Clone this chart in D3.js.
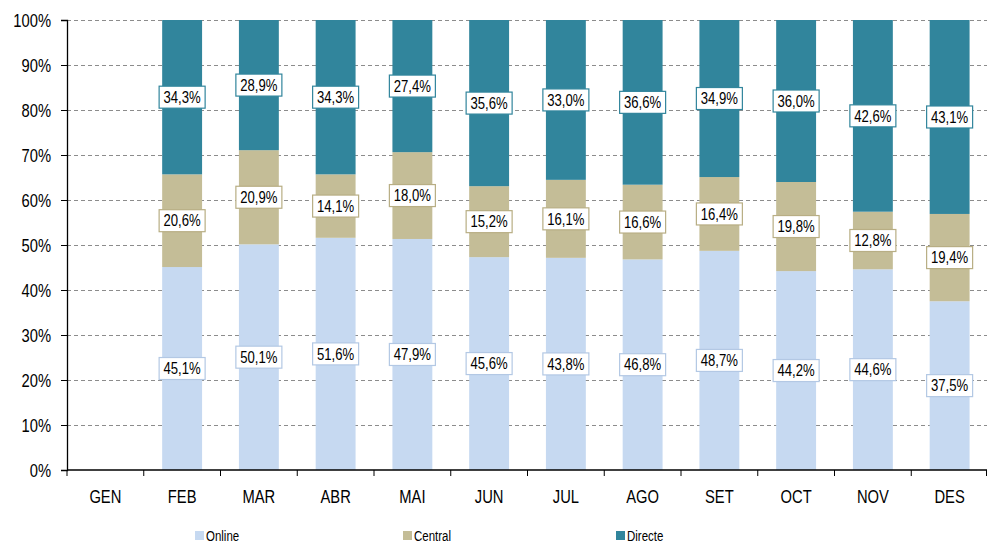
<!DOCTYPE html>
<html>
<head>
<meta charset="utf-8">
<script src="https://cdn.jsdelivr.net/npm/d3@7/dist/d3.min.js"></script>
<style>
  html, body { margin: 0; padding: 0; background: #fff; }
  svg { display: block; font-family: "Liberation Sans", Arial, sans-serif; }
</style>
</head>
<body>
<svg id="chart" width="987" height="543"></svg>
<script>
// Monthly share of bookings by channel
const months = ["GEN", "FEB", "MAR", "ABR", "MAI", "JUN", "JUL", "AGO", "SET", "OCT", "NOV", "DES"];
const seriesNames = ["Online", "Central", "Directe"];
const online  = [null, 45.1, 50.1, 51.6, 47.9, 45.6, 43.8, 46.8, 48.7, 44.2, 44.6, 37.5];
const central = [null, 20.6, 20.9, 14.1, 18.0, 15.2, 16.1, 16.6, 16.4, 19.8, 12.8, 19.4];
const directe = [null, 34.3, 28.9, 34.3, 27.4, 35.6, 33.0, 36.6, 34.9, 36.0, 42.6, 43.1];
const yTicks = [0, 0.1, 0.2, 0.3, 0.4, 0.5, 0.6, 0.7, 0.8, 0.9, 1.0];

const fill   = { Online: "#c6d9f1", Central: "#c4bd97", Directe: "#31859c" };
const border = { Online: "#b3c8e4", Central: "#b8ae84", Directe: "#31859c" };
const NARROW = 0.82; // horizontal squeeze for a condensed look

const rows = months.map((m, i) => ({
  month: m,
  Online: online[i] ?? 0,
  Central: central[i] ?? 0,
  Directe: directe[i] ?? 0,
  has: online[i] != null
}));

const svg = d3.select("#chart");
const margin = { left: 67, right: -1, top: 20, bottom: 73 };
const W = 987, H = 543;
const x = d3.scaleBand().domain(months).range([margin.left, W - margin.right]).paddingInner(0.48).paddingOuter(0.24);
const xEdge = d3.scaleBand().domain(months).range([margin.left, W - margin.right]);
const y = d3.scaleLinear().domain([0, 1]).range([H - margin.bottom, margin.top]);

// dashed gridlines
svg.append("g").selectAll("line").data(yTicks.filter(t => t > 0)).join("line")
  .attr("x1", margin.left).attr("x2", W)
  .attr("y1", d => y(d) + 0.5).attr("y2", d => y(d) + 0.5)
  .attr("stroke", "#8c8c8c").attr("stroke-width", 1).attr("stroke-dasharray", "4,3");

const stack = d3.stack().keys(seriesNames).offset(d3.stackOffsetExpand);
const stacked = stack(rows.filter(r => r.has));

const bars = svg.append("g");
stacked.forEach(layer => {
  bars.selectAll(null).data(layer).join("rect")
    .attr("x", d => x(d.data.month))
    .attr("width", x.bandwidth())
    .attr("y", d => y(d[1]))
    .attr("height", d => y(d[0]) - y(d[1]))
    .attr("fill", fill[layer.key]);
});

// y axis
const yAxis = svg.append("g").attr("transform", `translate(${margin.left},0)`)
  .call(d3.axisLeft(y).tickValues(yTicks).tickSize(6).tickFormat(d => Math.round(d * 100) + "%"));
yAxis.select(".domain").attr("stroke", "#000").attr("stroke-width", 1.3);
yAxis.selectAll(".tick line").attr("stroke", "#000");
yAxis.selectAll(".tick text")
  .attr("font-size", 18).attr("fill", "#000").attr("x", 0).attr("dy", "0.35em")
  .attr("font-family", null)
  .attr("transform", `translate(-16,0) scale(${NARROW},1)`);

// x axis
const xAxisG = svg.append("g").attr("transform", `translate(0,${y(0)})`);
xAxisG.append("line").attr("x1", margin.left).attr("x2", W).attr("stroke", "#000").attr("stroke-width", 1.3);
xAxisG.selectAll(".tk").data(months).join("line")
  .attr("x1", d => xEdge(d)).attr("x2", d => xEdge(d))
  .attr("y1", 0).attr("y2", 6).attr("stroke", "#000");
xAxisG.append("line").attr("x1", W - 0.5).attr("x2", W - 0.5).attr("y1", 0).attr("y2", 6).attr("stroke", "#000");
xAxisG.selectAll(".lbl").data(months).join("text")
  .attr("transform", d => `translate(${xEdge(d) + xEdge.bandwidth() / 2},33) scale(${NARROW},1)`)
  .attr("text-anchor", "middle").attr("font-size", 18).attr("fill", "#000")
  .text(d => d);

// value labels
const fmt = v => v.toFixed(1).replace(".", ",") + "%";
const lbl = svg.append("g");
stacked.forEach(layer => {
  const g = lbl.selectAll(null).data(layer).join("g")
    .attr("transform", d => `translate(${x(d.data.month) + x.bandwidth() / 2},${y((d[0] + d[1]) / 2)})`);
  g.append("rect")
    .attr("x", -23).attr("y", -11).attr("width", 46).attr("height", 22)
    .attr("fill", "#fff").attr("stroke", border[layer.key]).attr("stroke-width", 1.2);
  g.append("text")
    .attr("transform", `scale(${NARROW},1)`)
    .attr("text-anchor", "middle").attr("dy", "0.36em")
    .attr("font-size", 16).attr("fill", "#000")
    .text(d => fmt(d.data[layer.key]));
});

// legend
const legendX = [195, 403, 616];
const leg = svg.append("g").selectAll("g").data(seriesNames).join("g")
  .attr("transform", (d, i) => `translate(${legendX[i]},531)`);
leg.append("rect").attr("width", 9).attr("height", 9).attr("fill", d => fill[d]);
leg.append("text").attr("transform", `translate(11,9.5) scale(${NARROW},1)`)
  .attr("font-size", 14).attr("fill", "#000").text(d => d);
</script>
</body>
</html>
